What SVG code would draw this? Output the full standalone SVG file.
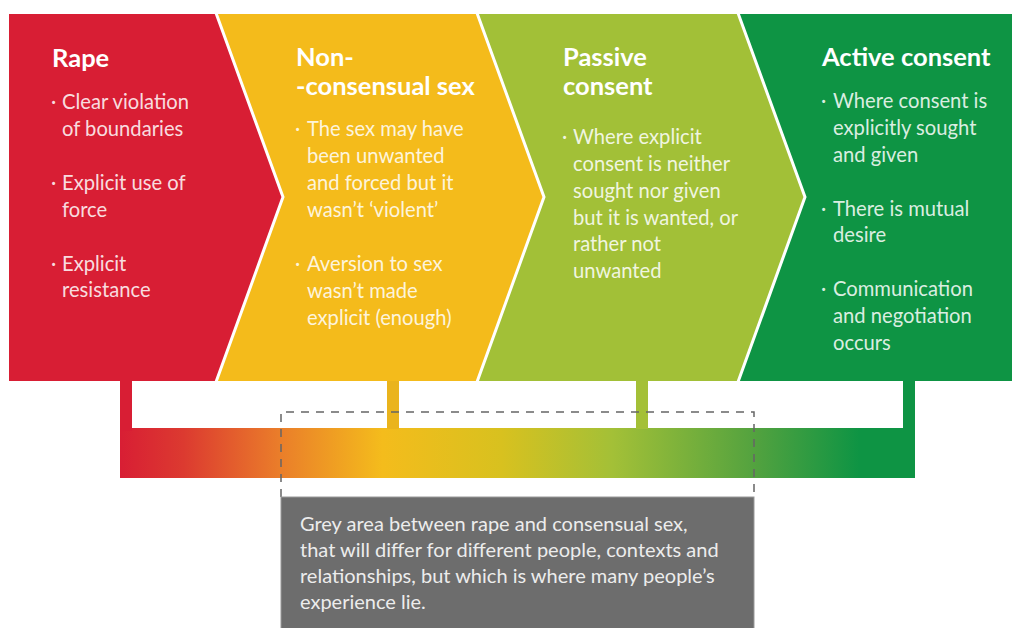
<svg xmlns="http://www.w3.org/2000/svg" width="1012" height="628" viewBox="0 0 1012 628">
  <defs>
    <linearGradient id="spectrum" gradientUnits="userSpaceOnUse" x1="120" y1="0" x2="915" y2="0">
      <stop offset="0" stop-color="#d81e34"/>
      <stop offset="0.08" stop-color="#dc3a30"/>
      <stop offset="0.2" stop-color="#ea7d2a"/>
      <stop offset="0.33" stop-color="#f4bc1c"/>
      <stop offset="0.48" stop-color="#d8c11f"/>
      <stop offset="0.62" stop-color="#a3c037"/>
      <stop offset="0.8" stop-color="#52a23f"/>
      <stop offset="0.93" stop-color="#0e9444"/>
      <stop offset="1" stop-color="#0e9444"/>
    </linearGradient>
    <style>
      .title { font-family: Lato, "Liberation Sans", sans-serif; font-weight: bold; font-size: 25.5px; fill: #ffffff; }
      .item { font-family: Lato, "Liberation Sans", sans-serif; font-size: 20.2px; fill: #ffffff; fill-opacity: 0.86; }
      .sep { fill: none; stroke: #ffffff; stroke-width: 3; stroke-linejoin: miter; }
      .dash { fill: none; stroke: #666666; stroke-width: 1.5; stroke-dasharray: 8 7; }
      .note { font-family: Lato, "Liberation Sans", sans-serif; font-size: 20px; fill: #ececec; }
    </style>
  </defs>

  <rect width="1012" height="628" fill="#ffffff"/>

  <!-- spectrum bar with stubs under each stage -->
  <g id="spectrum-bar">
    <rect x="120" y="428" width="795" height="50" fill="url(#spectrum)"/>
    <rect x="120" y="381" width="12" height="50" fill="#d81e34"/>
    <rect x="387" y="381" width="12" height="48" fill="#eab41d"/>
    <rect x="636" y="381" width="12" height="48" fill="#a4c037"/>
    <rect x="903" y="381" width="12" height="50" fill="#0e9444"/>
  </g>

  <!-- stage: rape -->
  <g id="stage-rape">
    <polygon points="9,14 216,14 283,197 216,381 9,381" fill="#d81e34"/>
    <text class="title" x="52" y="67">Rape</text>
    <text class="item" x="51" y="109">·</text>
    <text class="item" x="62" y="109">Clear violation</text>
    <text class="item" x="62" y="136">of boundaries</text>
    <text class="item" x="51" y="190">·</text>
    <text class="item" x="62" y="190">Explicit use of</text>
    <text class="item" x="62" y="217">force</text>
    <text class="item" x="51" y="271">·</text>
    <text class="item" x="62" y="271">Explicit</text>
    <text class="item" x="62" y="297">resistance</text>
  </g>

  <!-- stage: non-consensual sex -->
  <g id="stage-nonconsensual">
    <polygon points="216,14 477,14 544,197 477,381 216,381 283,197" fill="#f4bb1b"/>
    <text class="title" x="296" y="66">Non-</text>
    <text class="title" x="296" y="95">-consensual sex</text>
    <text class="item" x="295" y="136">·</text>
    <text class="item" x="307" y="136">The sex may have</text>
    <text class="item" x="307" y="163">been unwanted</text>
    <text class="item" x="307" y="190">and forced but it</text>
    <text class="item" x="307" y="217">wasn’t ‘violent’</text>
    <text class="item" x="295" y="271">·</text>
    <text class="item" x="307" y="271">Aversion to sex</text>
    <text class="item" x="307" y="298">wasn’t made</text>
    <text class="item" x="307" y="325">explicit (enough)</text>
  </g>

  <!-- stage: passive consent -->
  <g id="stage-passive">
    <polygon points="477,14 738,14 805,197 738,381 477,381 544,197" fill="#a2c037"/>
    <text class="title" x="563" y="66">Passive</text>
    <text class="title" x="563" y="95">consent</text>
    <text class="item" x="562" y="144">·</text>
    <text class="item" x="573" y="144">Where explicit</text>
    <text class="item" x="573" y="171">consent is neither</text>
    <text class="item" x="573" y="198">sought nor given</text>
    <text class="item" x="573" y="225">but it is wanted, or</text>
    <text class="item" x="573" y="251">rather not</text>
    <text class="item" x="573" y="278">unwanted</text>
  </g>

  <!-- stage: active consent -->
  <g id="stage-active">
    <polygon points="738,14 1012,14 1012,381 738,381 805,197" fill="#0e9444"/>
    <text class="title" x="822" y="66">Active consent</text>
    <text class="item" x="821" y="108">·</text>
    <text class="item" x="833" y="108">Where consent is</text>
    <text class="item" x="833" y="135">explicitly sought</text>
    <text class="item" x="833" y="162">and given</text>
    <text class="item" x="821" y="216">·</text>
    <text class="item" x="833" y="216">There is mutual</text>
    <text class="item" x="833" y="242">desire</text>
    <text class="item" x="821" y="296">·</text>
    <text class="item" x="833" y="296">Communication</text>
    <text class="item" x="833" y="323">and negotiation</text>
    <text class="item" x="833" y="350">occurs</text>
  </g>

  <!-- white seams between the chevrons, and the dashed grey-area bracket -->
  <g id="connectors">
    <polyline class="sep" points="216,13 283,197 216,382"/>
    <polyline class="sep" points="477,13 544,197 477,382"/>
    <polyline class="sep" points="738,13 805,197 738,382"/>
    <polyline class="dash" points="281,497 281,412 754,412 754,497"/>
  </g>

  <!-- grey-area note -->
  <g id="grey-area-note">
    <rect x="281" y="497" width="473" height="140" fill="#6d6d6d" stroke="#9a9a9a" stroke-width="1"/>
    <text class="note" x="300" y="531">Grey area between rape and consensual sex,</text>
    <text class="note" x="300" y="557">that will differ for different people, contexts and</text>
    <text class="note" x="300" y="583">relationships, but which is where many people’s</text>
    <text class="note" x="300" y="609">experience lie.</text>
  </g>
</svg>
